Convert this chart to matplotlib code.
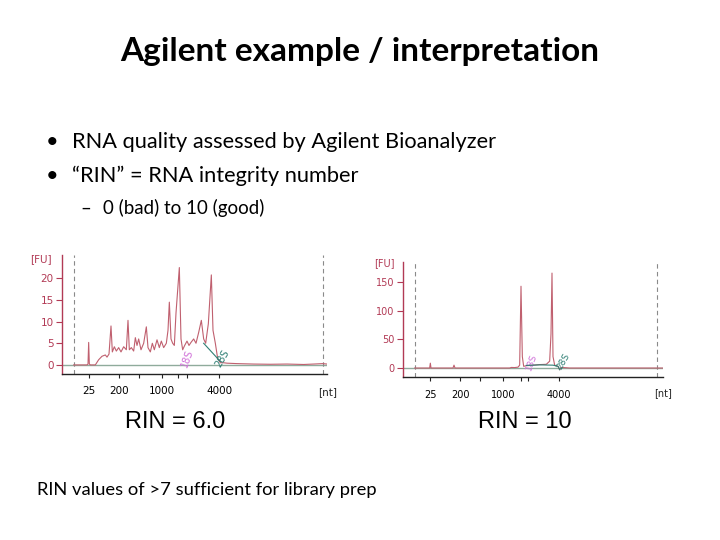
import matplotlib
matplotlib.use("Agg")
import matplotlib.pyplot as plt

# slide text
title = "Agilent example / interpretation"
bullets = ["RNA quality assessed by Agilent Bioanalyzer",
           "\u201cRIN\u201d = RNA integrity number"]
sub_bullet = "0 (bad) to 10 (good)"
rin_labels = ["RIN = 6.0", "RIN = 10"]
footer = "RIN values of >7 sufficient for library prep"

# left electropherogram (migration time vs fluorescence)
left_t = [16.0, 20.0, 20.3, 20.5, 20.7, 21.0, 22.5, 23.5, 24.5, 25.5, 26.0, 26.6,
          27.2, 27.6, 28.2, 28.8, 29.5, 30.2, 31.0, 31.8, 32.3, 32.7, 33.3, 34.0,
          34.5, 35.0, 35.5, 36.2, 37.0, 37.8, 38.3, 39.0, 39.6, 40.2, 41.0, 41.7,
          42.3, 43.0, 43.8, 44.3, 44.7, 45.2, 45.7, 46.2, 46.7, 47.7, 48.2, 48.7,
          49.3, 50.0, 50.6, 51.2, 52.0, 52.7, 53.5, 54.3, 55.0, 55.6, 56.4, 57.3,
          57.8, 58.5, 59.2, 60.0, 61.0, 62.0, 65.0, 70.0, 75.0, 80.0, 85.0, 88.0,
          90.7, 92.0]
left_fu = [0, 0, 0.2, 5.2, 0.2, 0, 0, 1.2, 2.0, 2.3, 1.8, 2.5,
           9.0, 3.0, 4.2, 3.2, 4.0, 3.0, 4.2, 3.5, 10.3, 3.5, 4.0, 3.2,
           6.3, 4.5, 6.0, 3.5, 5.0, 8.8, 4.0, 3.0, 5.0, 3.5, 5.8, 4.0,
           5.5, 4.0, 5.0, 8.0, 14.5, 6.0, 5.0, 4.5, 12.0, 22.5, 6.0, 3.5,
           4.5, 5.5, 4.5, 5.2, 6.0, 5.0, 7.5, 10.3, 6.0, 5.0, 9.5, 20.8,
           8.0, 5.0, 1.5, 0.5, 0.5, 0.4, 0.3, 0.2, 0.15, 0.2, 0.1, 0.2,
           0.3, 0.2]
left_ticks = [20.5, 29.7, 35.7, 42.5, 47.3, 50.0, 59.7]
left_ticklabels = ["25", "200", "", "1000", "", "", "4000"]
left_yticks = [0, 5, 10, 15, 20]
left_base_t = [55.0, 60.0]
left_base_fu = [5.0, 0.8]

# right electropherogram
right_t = [16.5, 21.0, 21.2, 21.4, 28.0, 28.3, 28.6, 45.0, 45.5, 46.5, 47.5, 48.0,
           48.4, 48.8, 49.2, 50.0, 52.0, 54.0, 56.0, 57.0, 57.4, 57.7, 58.0, 58.5,
           59.5, 60.0, 60.5, 62.0, 63.0, 91.0]
right_fu = [0, 0, 8.5, 0, 0, 5.0, 0, 0, 1.0, 0.8, 1.5, 5.0,
            143, 20, 3, 4, 5, 6, 6.5, 12, 60, 166, 20, 5,
            3, -3, 1, 0.5, 0, 0]
right_ticks = [21.2, 30.2, 36.0, 43.0, 48.5, 50.4, 59.8]
right_ticklabels = ["25", "200", "", "1000", "", "", "4000"]
right_yticks = [0, 50, 100, 150]
right_base_t = [50.0, 54.0, 58.0, 59.5, 60.0]
right_base_fu = [4.5, 5.5, 5.0, 3.0, -3.0]

RED = "#b23a55"
TRACE = "#c0606f"
BASE = "#8fab9c"
TEAL = "#2f7f74"
PINK = "#d070d8"

plt.rcParams['font.family'] = ['Lato', 'DejaVu Sans']
fig = plt.figure(figsize=(7.2, 5.4), dpi=100)
W, H = 720.0, 540.0

fig.text(360 / W, 1 - 52 / H, title, ha="center", va="center",
         fontsize=24, fontweight="bold")
for y, txt in zip([142, 176], bullets):
    fig.text(46 / W, 1 - y / H, "\u2022", ha="left", va="center", fontsize=15.7)
    fig.text(72 / W, 1 - y / H, txt, ha="left", va="center", fontsize=15.7)
fig.text(80 / W, 1 - 208 / H, "\u2013", ha="left", va="center", fontsize=13.5)
fig.text(103 / W, 1 - 208 / H, sub_bullet, ha="left", va="center", fontsize=13.5)
fig.text(37 / W, 1 - 490 / H, footer, ha="left", va="center", fontsize=13.2)
for x, txt in zip([175, 525], rin_labels):
    fig.text(x / W, 1 - 422 / H, txt, ha="center", va="center", fontsize=17,
             family="Liberation Sans")


def electro(rect, t, fu, xlim, ylim, dashes, ticks, ticklabels, yticks,
            base_t, base_fu, fu_pos, nt_pos, s18, s28, fs):
    ax = fig.add_axes(rect)
    ax.set_xlim(*xlim)
    ax.set_ylim(*ylim)
    ax.axhline(0, color=BASE, lw=1.0, zorder=1)
    for d in dashes:
        ax.axvline(d, color="#8a8a8a", lw=0.8, ls=(0, (4, 3)), zorder=1)
    ax.plot(t, fu, color=TRACE, lw=0.8, zorder=3)
    ax.plot(base_t, base_fu, color=TEAL, lw=0.8, zorder=4)
    for s in ["top", "right"]:
        ax.spines[s].set_visible(False)
    ax.spines["left"].set_color(RED)
    ax.spines["left"].set_linewidth(1.0)
    ax.spines["bottom"].set_color("#222222")
    ax.spines["bottom"].set_linewidth(1.0)
    ax.set_xticks(ticks)
    ax.set_xticklabels(ticklabels, family="DejaVu Sans", fontsize=fs)
    ax.tick_params(axis="x", length=3, width=0.8, pad=6, color="#222222")
    ax.set_yticks(yticks)
    ax.set_yticklabels([str(v) for v in yticks], family="DejaVu Sans",
                       fontsize=fs, color=RED)
    ax.tick_params(axis="y", length=4, width=0.8, pad=2, color=RED)
    fig.text(fu_pos[0] / W, 1 - fu_pos[1] / H, "[FU]", color=RED,
             family="DejaVu Sans", fontsize=fs, ha="center", va="center")
    fig.text(nt_pos[0] / W, 1 - nt_pos[1] / H, "[nt]", color="#222222",
             family="DejaVu Sans", fontsize=fs, ha="center", va="center")
    ax.text(s18[0], s18[1], "18S", color=PINK, family="DejaVu Sans",
            fontsize=fs - 0.5, rotation=70, ha="center", va="center")
    ax.text(s28[0], s28[1], "28S", color=TEAL, family="DejaVu Sans",
            fontsize=fs - 0.5, rotation=60, ha="center", va="center")
    return ax


electro([62 / W, 1 - 374 / H, 265 / W, 119 / H], left_t, left_fu,
        (12.5, 92.0), (-2.1, 25.4), [16.0, 90.7], left_ticks, left_ticklabels,
        left_yticks, left_base_t, left_base_fu, (41, 259), (328, 392),
        (50.0, 1.5), (60.5, 1.5), 7.5)
electro([403 / W, 1 - 377 / H, 260 / W, 115 / H], right_t, right_fu,
        (13.0, 91.0), (-15.7, 185.4), [16.5, 89.3], right_ticks, right_ticklabels,
        right_yticks, right_base_t, right_base_fu, (384, 263), (663, 393),
        (51.5, 10), (61.0, 12), 7)

fig.savefig("out.png", dpi=100)
